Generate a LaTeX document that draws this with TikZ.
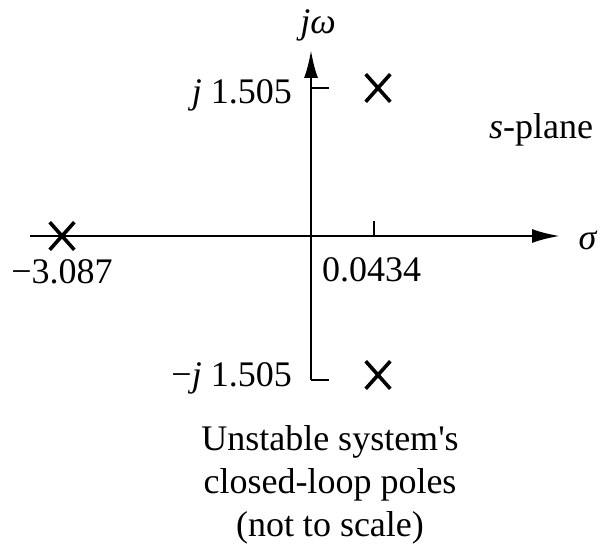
\documentclass[tikz,border=0pt]{standalone}
\usepackage{fontspec}
\setmainfont{Liberation Serif}
\usetikzlibrary{arrows.meta,shapes.misc}

\begin{document}
\begin{tikzpicture}[x=1pt,y=-1pt,
  axis/.style={line width=2.6pt,-{Latex[length=28pt,width=14pt]}},
  tick/.style={line width=2.2pt},
  pole/.style={cross out,draw,line width=3.6pt,minimum width=21pt,minimum height=24pt,inner sep=0pt},
  lab/.style={font=\fontsize{36}{43}\selectfont,inner sep=0pt}]
\useasboundingbox (0,0) rectangle (606,553);
% axes
\coordinate (xl) at (30,236);
\coordinate (xr) at (560,236);
\coordinate (yb) at (311,380);
\coordinate (yt) at (311,50);
\draw[axis] (xl) -- (xr);
\draw[axis] (yb) -- (yt);
% ticks
\coordinate (ta) at (311,88);  \coordinate (tb) at (329,88);
\coordinate (tc) at (311,380); \coordinate (td) at (329,380);
\coordinate (te) at (374,236); \coordinate (tf) at (374,221);
\draw[tick] (ta) -- (tb);
\draw[tick] (tc) -- (td);
\draw[tick] (te) -- (tf);
% poles
\foreach \px/\py/\nm in {378/88/pup, 378/375/pdn, 62/236/plf}
  \node[pole] (\nm) at (\px,\py) {};
% labels
\node[lab] (jw) at (318,25) {\textit{jω}};
\node[lab] (sig) at (588,240) {\textit{σ}};
\node[lab] (spl) at (541,130) {\textit{s}-plane};
\node[lab,anchor=east] (jpos) at (292,95) {\textit{j} 1.505};
\node[lab,anchor=east] (jneg) at (292,378) {−\textit{j} 1.505};
\node[lab] (sre) at (62,272) {−3.087};
\node[lab,anchor=west] (sim) at (322,270) {0.0434};
\node[lab,align=center] (cap) at (330,485) {Unstable system\textquotesingle s\\closed-loop poles\\(not to scale)};
\end{tikzpicture}
\end{document}
